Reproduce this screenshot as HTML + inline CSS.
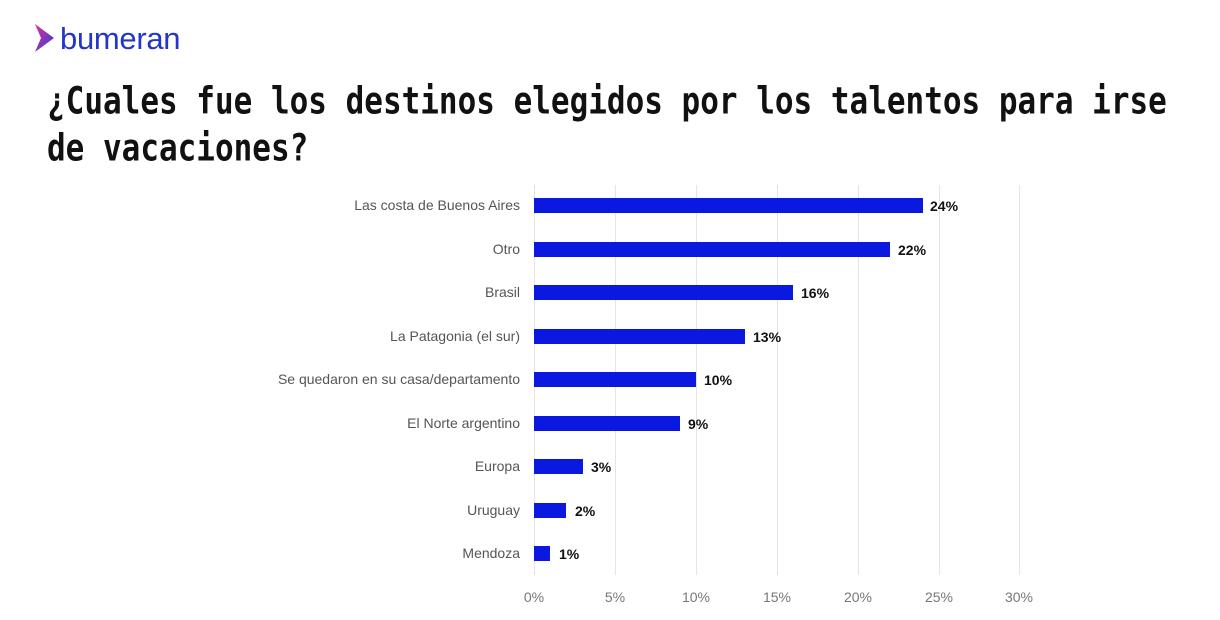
<!DOCTYPE html>
<html><head><meta charset="utf-8"><style>
body{margin:0;width:1220px;height:620px;background:#fff;position:relative;overflow:hidden;font-family:"Liberation Sans",sans-serif}
.t{position:absolute;left:47px;font-family:"DejaVu Sans Mono","Liberation Mono",monospace;font-weight:bold;font-size:31px;color:#111;white-space:nowrap;transform:scaleY(1.2);transform-origin:left top;letter-spacing:0px}
.lab{position:absolute;right:700px;font-size:14px;color:#555;white-space:nowrap}
.bar{position:absolute;left:534px;height:15px;background:#0b18e0}
.val{position:absolute;font-size:14px;font-weight:bold;color:#111}
.g{position:absolute;top:185px;height:390px;width:1px;background:#e4e4e4}
.ax{position:absolute;top:589px;font-size:14px;color:#777;transform:translateX(-50%)}
</style></head><body>
<svg style="position:absolute;left:32px;top:22px" width="26" height="32" viewBox="0 0 26 32"><defs><linearGradient id="a" x1="0" y1="0" x2="1" y2="1"><stop offset="0" stop-color="#e0338f"/><stop offset="1" stop-color="#2b3be0"/></linearGradient></defs><path d="M3 2 L22 16 L3 30 L9 16 Z" fill="url(#a)"/></svg>
<div style="position:absolute;left:60px;top:21px;font-size:31px;color:#2436c8;letter-spacing:-0.3px">bumeran</div>
<div class="t" style="top:80px">¿Cuales fue los destinos elegidos por los talentos para irse</div>
<div class="t" style="top:127px">de vacaciones?</div>
<div class="g" style="left:534px"></div><div class="g" style="left:615px"></div><div class="g" style="left:696px"></div><div class="g" style="left:777px"></div><div class="g" style="left:858px"></div><div class="g" style="left:939px"></div><div class="g" style="left:1019px"></div>
<div class="ax" style="left:534px">0%</div><div class="ax" style="left:615px">5%</div><div class="ax" style="left:696px">10%</div><div class="ax" style="left:777px">15%</div><div class="ax" style="left:858px">20%</div><div class="ax" style="left:939px">25%</div><div class="ax" style="left:1019px">30%</div>
<div class="lab" style="top:197px">Las costa de Buenos Aires</div><div class="bar" style="top:198px;width:389px"></div><div class="val" style="top:198px;left:930px">24%</div>
<div class="lab" style="top:241px">Otro</div><div class="bar" style="top:242px;width:356px"></div><div class="val" style="top:242px;left:898px">22%</div>
<div class="lab" style="top:284px">Brasil</div><div class="bar" style="top:285px;width:259px"></div><div class="val" style="top:285px;left:801px">16%</div>
<div class="lab" style="top:328px">La Patagonia (el sur)</div><div class="bar" style="top:329px;width:211px"></div><div class="val" style="top:329px;left:753px">13%</div>
<div class="lab" style="top:371px">Se quedaron en su casa/departamento</div><div class="bar" style="top:372px;width:162px"></div><div class="val" style="top:372px;left:704px">10%</div>
<div class="lab" style="top:415px">El Norte argentino</div><div class="bar" style="top:416px;width:146px"></div><div class="val" style="top:416px;left:688px">9%</div>
<div class="lab" style="top:458px">Europa</div><div class="bar" style="top:459px;width:49px"></div><div class="val" style="top:459px;left:591px">3%</div>
<div class="lab" style="top:502px">Uruguay</div><div class="bar" style="top:503px;width:32px"></div><div class="val" style="top:503px;left:575px">2%</div>
<div class="lab" style="top:545px">Mendoza</div><div class="bar" style="top:546px;width:16px"></div><div class="val" style="top:546px;left:559px">1%</div>
</body></html>
